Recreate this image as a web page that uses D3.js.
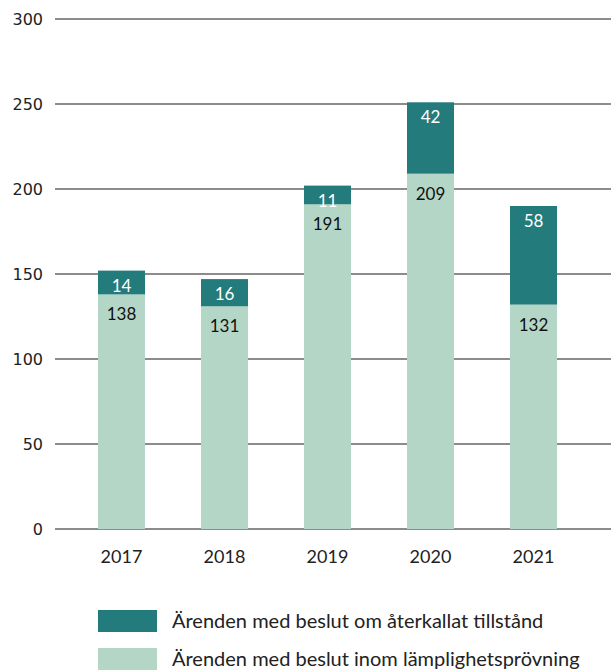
<!DOCTYPE html>
<html><head><meta charset="utf-8">
<script src="https://cdn.jsdelivr.net/npm/d3@7"></script>
<style>body{margin:0;background:#fff}svg{display:block}</style>
</head><body>
<script>
const years = ["2017","2018","2019","2020","2021"];
const lamplighet = [138,131,191,209,132];
const aterkallat = [14,16,11,42,58];
const yTicks = [0,50,100,150,200,250,300];
const seriesNames = ["Ärenden med beslut om återkallat tillstånd","Ärenden med beslut inom lämplighetsprövning"];
const colors = {dark:"#237B7B", light:"#B4D6C6"};

const W=611,H=670;
const svg=d3.select("body").append("svg").attr("width",W).attr("height",H);
const y=d3.scaleLinear().domain([0,300]).range([529,19]);
const pi=56/103;
const x=d3.scaleBand().domain(years).range([70,585]).paddingInner(pi).paddingOuter(pi/2);

// grid
svg.append("g").selectAll("line").data(yTicks).join("line")
  .attr("x1",55).attr("x2",611).attr("y1",d=>y(d)).attr("y2",d=>y(d))
  .attr("stroke","#666").attr("stroke-width",1.3);
svg.append("g").selectAll("text").data(yTicks).join("text")
  .attr("x",43).attr("y",d=>y(d)).attr("dy","0.35em").attr("text-anchor","end")
  .attr("font-family","DejaVu Sans").attr("font-size",16).attr("fill","#222").text(d=>d);

const data=years.map((yr,i)=>({yr,a:lamplighet[i],b:aterkallat[i]}));
const g=svg.append("g");
g.selectAll("rect.l").data(data).join("rect")
  .attr("x",d=>x(d.yr)).attr("width",x.bandwidth())
  .attr("y",d=>y(d.a)).attr("height",d=>y(0)-y(d.a)).attr("fill",colors.light);
g.selectAll("rect.d").data(data).join("rect")
  .attr("x",d=>x(d.yr)).attr("width",x.bandwidth())
  .attr("y",d=>y(d.a+d.b)).attr("height",d=>y(d.a)-y(d.a+d.b)).attr("fill",colors.dark);
const lf="Lato, 'Open Sans', sans-serif";
g.selectAll("text.l").data(data).join("text")
  .attr("x",d=>x(d.yr)+x.bandwidth()/2).attr("y",d=>y(d.a)+20).attr("dy","0.35em")
  .attr("text-anchor","middle").attr("font-family",lf).attr("font-size",17).attr("fill","#111").text(d=>d.a);
g.selectAll("text.d").data(data).join("text")
  .attr("x",d=>x(d.yr)+x.bandwidth()/2).attr("y",d=>y(d.a+d.b)+15).attr("dy","0.35em")
  .attr("text-anchor","middle").attr("font-family",lf).attr("font-size",17).attr("fill","#fff").text(d=>d.b);

// x labels
svg.append("g").selectAll("text").data(years).join("text")
  .attr("x",d=>x(d)+x.bandwidth()/2).attr("y",557).attr("dy","0.35em").attr("text-anchor","middle")
  .attr("font-family",lf).attr("font-size",18).attr("fill","#222").text(d=>d);

// legend
const leg=svg.append("g");
[colors.dark,colors.light].forEach((c,i)=>{
  leg.append("rect").attr("x",98).attr("y",610+i*38).attr("width",59).attr("height",22).attr("fill",c);
  leg.append("text").attr("x",172).attr("y",621+i*38).attr("dy","0.35em")
    .attr("font-family",lf).attr("font-size",20).attr("fill","#222").text(seriesNames[i]);
});
</script>
</body></html>
